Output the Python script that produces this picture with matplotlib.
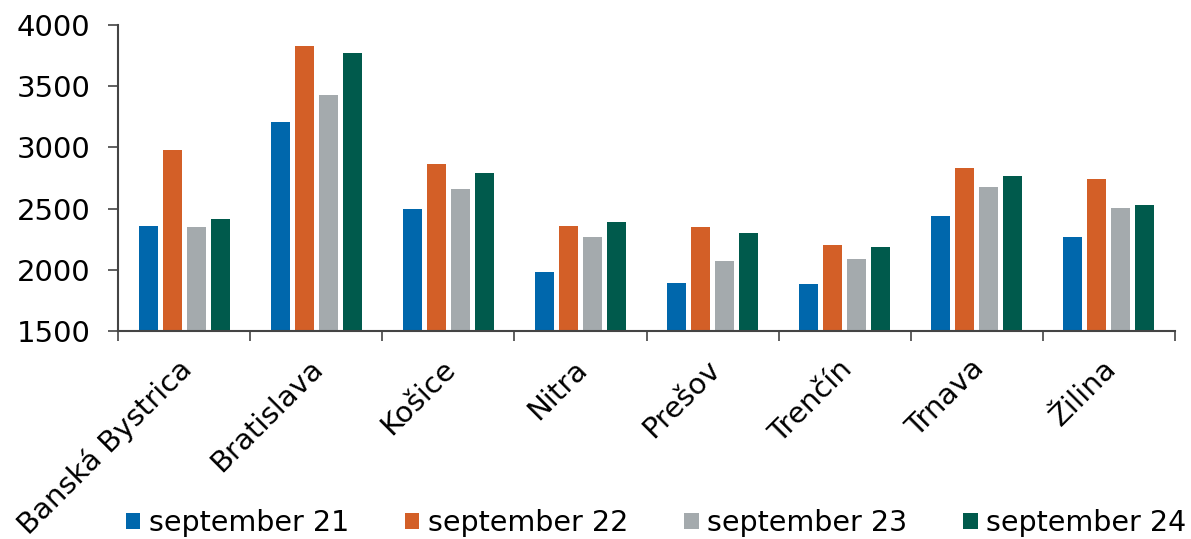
import matplotlib
matplotlib.use("Agg")
import matplotlib.pyplot as plt
import numpy as np
from matplotlib.ticker import FixedLocator
from matplotlib.patches import Patch
from matplotlib.transforms import ScaledTranslation

categories = ["Banská Bystrica", "Bratislava", "Košice", "Nitra", "Prešov", "Trenčín", "Trnava", "Žilina"]
series_names = ["september 21", "september 22", "september 23", "september 24"]
sep21 = [2358, 3210, 2499, 1982, 1892, 1884, 2437, 2265]
sep22 = [2976, 3826, 2864, 2358, 2350, 2200, 2832, 2739]
sep23 = [2350, 3425, 2658, 2268, 2074, 2086, 2674, 2502]
sep24 = [2415, 3771, 2791, 2393, 2298, 2189, 2764, 2529]
colors = ["#0067AC", "#D35F27", "#A4AAAD", "#005A4C"]

plt.rcParams['font.family'] = ['DejaVu Sans']
fig = plt.figure(figsize=(11.91, 5.39), dpi=100)
ax = fig.add_axes([118/1191, 1-331/539, (1175-118)/1191, (331-25)/539])

x = np.arange(len(categories))
step = 24/132
width = 19/132
for i, (vals, c) in enumerate(zip([sep21, sep22, sep23, sep24], colors)):
    ax.bar(x + (i-1.5)*step, np.array(vals)-1500, bottom=1500, width=width, color=c, label=series_names[i])

ax.set_xlim(-0.5, len(categories)-0.5)
ax.set_ylim(1500, 4000)
ax.set_yticks([1500, 2000, 2500, 3000, 3500, 4000])
ax.tick_params(axis='y', labelsize=21, length=7, width=1.2, color='#444444', pad=13)
ax.set_xticks(x)
ax.set_xticklabels(categories, rotation=45, ha='right', rotation_mode='anchor', fontsize=21)
ax.tick_params(axis='x', which='major', length=0, pad=17)
offset = ScaledTranslation(-7/100, 0, fig.dpi_scale_trans)
for lbl in ax.get_xticklabels():
    lbl.set_transform(lbl.get_transform() + offset)
ax.xaxis.set_minor_locator(FixedLocator(np.arange(-0.5, len(categories), 1.0)))
ax.tick_params(axis='x', which='minor', length=7, width=1.2, color='#444444')
for s in ['top', 'right']:
    ax.spines[s].set_visible(False)
for s in ['left', 'bottom']:
    ax.spines[s].set_color('#444444')
    ax.spines[s].set_linewidth(1.5)

handles = [Patch(facecolor=c, label=n) for c, n in zip(colors, series_names)]
fig.legend(handles=handles, loc='center', bbox_to_anchor=(0.551, 1-523/539), ncol=4,
           frameon=False, fontsize=20.5, handlelength=0.5, handleheight=0.5,
           handletextpad=0.3, columnspacing=1.97, borderpad=0)

fig.savefig("out.png", dpi=100)
